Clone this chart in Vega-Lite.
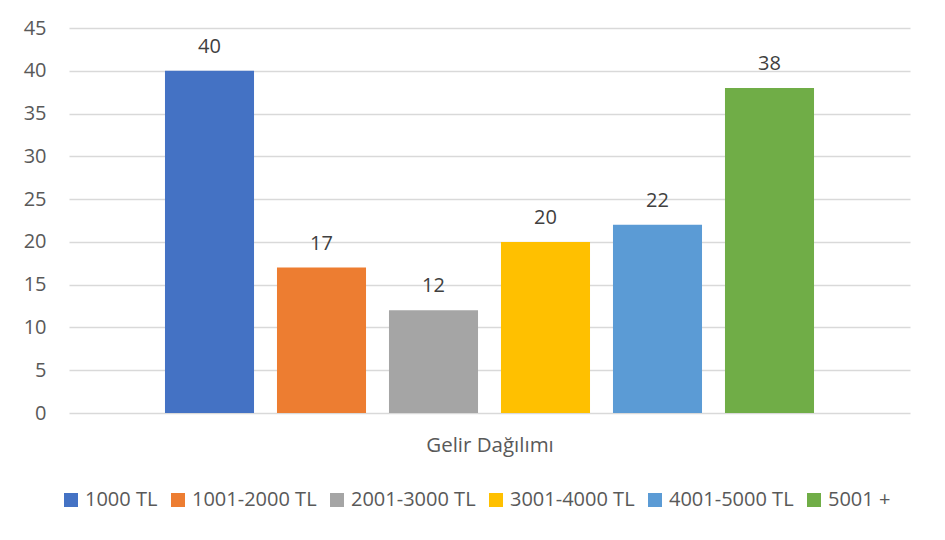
{
  "$schema": "https://vega.github.io/schema/vega-lite/v6.json",
  "width": 841,
  "height": 385,
  "autosize": {"type": "none"},
  "padding": {"left": 69, "top": 28, "right": 35, "bottom": 127},
  "background": "white",
  "config": {
    "font": "Open Sans",
    "view": {"stroke": null}
  },
  "data": {
    "values": [
      {"grup": "1000 TL", "sayi": 40},
      {"grup": "1001-2000 TL", "sayi": 17},
      {"grup": "2001-3000 TL", "sayi": 12},
      {"grup": "3001-4000 TL", "sayi": 20},
      {"grup": "4001-5000 TL", "sayi": 22},
      {"grup": "5001 +", "sayi": 38}
    ]
  },
  "encoding": {
    "x": {
      "field": "grup",
      "type": "nominal",
      "sort": null,
      "scale": {"paddingInner": 0.205, "paddingOuter": 0.857},
      "axis": {
        "title": "Gelir Dağılımı",
        "labels": false,
        "ticks": false,
        "domain": false,
        "titleFont": "Open Sans",
        "titleFontSize": 20.5,
        "titleFontWeight": "normal",
        "titleColor": "#595959",
        "titlePadding": 22
      }
    },
    "y": {
      "field": "sayi",
      "type": "quantitative",
      "scale": {"domain": [0, 45], "nice": false},
      "axis": {
        "title": null,
        "values": [0, 5, 10, 15, 20, 25, 30, 35, 40, 45],
        "domain": false,
        "ticks": false,
        "gridColor": "#d9d9d9",
        "gridWidth": 1.5,
        "labelFont": "Open Sans",
        "labelFontSize": 20,
        "labelColor": "#595959",
        "labelPadding": 23
      }
    }
  },
  "layer": [
    {
      "mark": {"type": "bar"},
      "encoding": {
        "color": {
          "field": "grup",
          "type": "nominal",
          "sort": null,
          "scale": {
            "domain": ["1000 TL", "1001-2000 TL", "2001-3000 TL", "3001-4000 TL", "4001-5000 TL", "5001 +"],
            "range": ["#4472C4", "#ED7D31", "#A5A5A5", "#FFC000", "#5B9BD5", "#70AD47"]
          },
          "legend": {
            "title": null,
            "orient": "none",
            "direction": "horizontal",
            "legendX": -8,
            "legendY": 462,
            "symbolType": "square",
            "symbolSize": 196,
            "symbolStrokeWidth": 0,
            "symbolOffset": 0,
            "labelFont": "Open Sans",
            "labelFontSize": 20,
            "labelColor": "#595959",
            "labelOffset": 4,
            "columnPadding": 10,
            "columns": 6
          }
        }
      }
    },
    {
      "mark": {"type": "text", "baseline": "alphabetic", "dy": -18, "fontSize": 20, "color": "#404040", "font": "Open Sans"},
      "encoding": {
        "text": {"field": "sayi", "type": "quantitative"}
      }
    }
  ]
}
